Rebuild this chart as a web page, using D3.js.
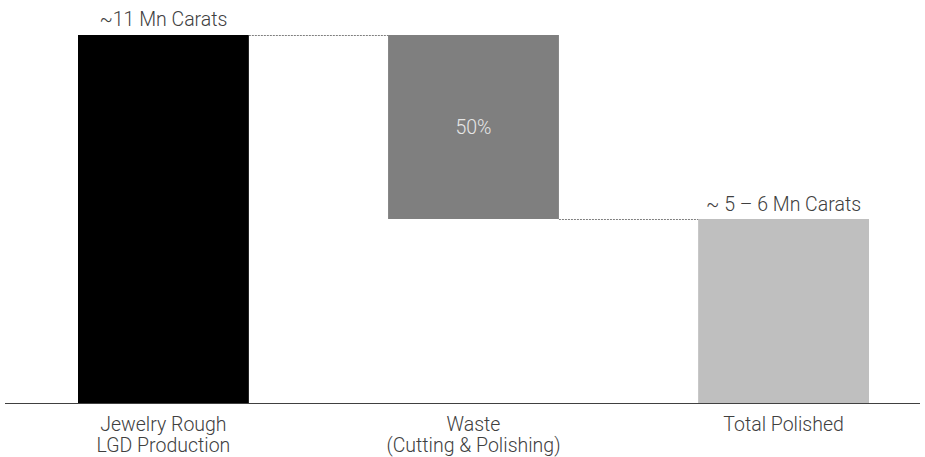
<!DOCTYPE html>
<html><head><meta charset="utf-8">
<script src="https://cdn.jsdelivr.net/npm/d3@7"></script>
<style>
html,body{margin:0;padding:0;background:#fff;}
text{font-family:Roboto,"Noto Sans",sans-serif;font-weight:300;}
</style></head>
<body>
<svg id="chart" width="925" height="457"></svg>
<script>
const categories = ["Jewelry Rough\nLGD Production", "Waste\n(Cutting & Polishing)", "Total Polished"];
const starts = [0, 5.5, 0];
const ends = [11, 11, 5.5];
const colors = ["#000000", "#7f7f7f", "#bfbfbf"];
const barLabels = ["~11 Mn Carats", "50%", "~ 5 – 6 Mn Carats"];

const svg = d3.select("#chart");
const x = d3.scaleBand().domain(categories).range([78, 869]).paddingInner(0.449).paddingOuter(0);
const y = d3.scaleLinear().domain([0, 11]).range([403, 35]);
const FS = 19.5;

// bars
svg.selectAll("rect.bar").data(categories).enter().append("rect")
  .attr("class","bar")
  .attr("x", d => x(d))
  .attr("width", x.bandwidth())
  .attr("y", (d,i) => y(ends[i]))
  .attr("height", (d,i) => y(starts[i]) - y(ends[i]))
  .attr("fill", (d,i) => colors[i]);

// connectors
const conns = [[0,1,ends[0]],[1,2,starts[1]]];
svg.selectAll("line.conn").data(conns).enter().append("line")
  .attr("x1", d => x(categories[d[0]]) + x.bandwidth())
  .attr("x2", d => x(categories[d[1]]))
  .attr("y1", d => y(d[2]) + 0.5)
  .attr("y2", d => y(d[2]) + 0.5)
  .attr("stroke", "#7f7f7f")
  .attr("stroke-width", 1)
  .attr("stroke-dasharray", "2,1");

// axis
const axis = svg.append("g").attr("transform", `translate(0,${y(0)})`)
  .call(d3.axisBottom(x).tickSize(0).tickFormat(""));
axis.select(".domain").attr("d", "M5,0.5H920").attr("stroke", "#404040").attr("stroke-width", 1.2);

// category labels
categories.forEach(c => {
  const lines = c.split("\n");
  const t = svg.append("text")
    .attr("x", x(c) + x.bandwidth()/2)
    .attr("y", 430.5)
    .attr("text-anchor","middle")
    .attr("fill","#404040")
    .attr("font-size", FS);
  lines.forEach((l,i) => t.append("tspan").attr("x", x(c) + x.bandwidth()/2).attr("dy", i===0?0:21).text(l));
});

// value labels
svg.append("text").attr("x", x(categories[0]) + x.bandwidth()/2).attr("y", y(ends[0]) - 9)
  .attr("text-anchor","middle").attr("fill","#404040").attr("font-size",FS).text(barLabels[0]);
svg.append("text").attr("x", x(categories[1]) + x.bandwidth()/2).attr("y", (y(starts[1]) + y(ends[1]))/2 + 6.5)
  .attr("text-anchor","middle").attr("fill","#e6e6e6").attr("font-size",FS).text(barLabels[1]);
svg.append("text").attr("x", x(categories[2]) + x.bandwidth()/2).attr("y", y(ends[2]) - 8)
  .attr("text-anchor","middle").attr("fill","#404040").attr("font-size",FS).text(barLabels[2]);
</script>
</body></html>
